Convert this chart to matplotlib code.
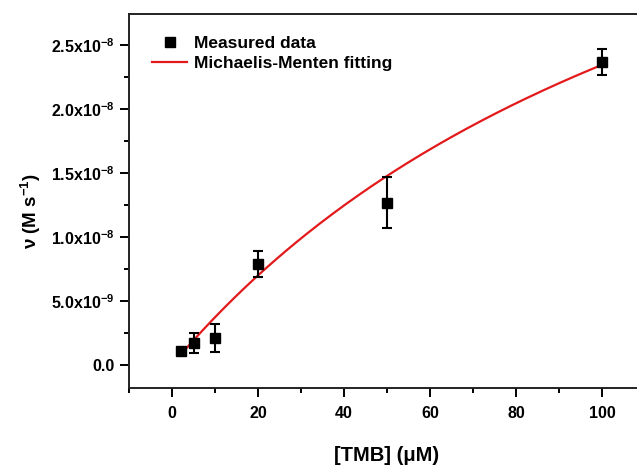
import matplotlib
matplotlib.use("Agg")
import matplotlib.pyplot as plt
import numpy as np
from matplotlib.ticker import MultipleLocator, FuncFormatter

# Data
tmb_uM = [2, 5, 10, 20, 50, 100]
rate = [1.1e-9, 1.7e-9, 2.1e-9, 7.9e-9, 1.27e-8, 2.37e-8]
rate_err = [0.0, 0.8e-9, 1.12e-9, 1.02e-9, 2.02e-9, 1.0e-9]

# Michaelis-Menten fit parameters (estimated from the drawn curve)
vmax = 5.7e-8
km = 142.7
fit_x_range = (1.9, 100)

plt.rcParams['font.family'] = ['Liberation Sans', 'DejaVu Sans']
plt.rcParams['font.weight'] = 'bold'
plt.rcParams['mathtext.fontset'] = 'custom'
plt.rcParams['mathtext.rm'] = 'Liberation Sans:bold'
plt.rcParams['mathtext.bf'] = 'Liberation Sans:bold'
plt.rcParams['mathtext.default'] = 'rm'

fig = plt.figure(figsize=(6.37, 4.69), dpi=100)
ax = fig.add_axes([129/637, 1 - 387.7/469, 516/637, (387.7 - 14.3)/469])

xs = np.linspace(fit_x_range[0], fit_x_range[1], 200)
line, = ax.plot(xs, vmax * xs / (km + xs), color='#e31a1c', lw=1.6, zorder=2)
ax.errorbar(tmb_uM, rate, yerr=rate_err, fmt='none', ecolor='black',
            elinewidth=1.5, capsize=3.8, capthick=1.5, zorder=3)
pts, = ax.plot(tmb_uM, rate, 's', color='black', ms=6.5, zorder=4)

ax.set_xlim(-10, 110)
ax.set_ylim(-1.78e-9, 2.744e-8)

ax.xaxis.set_major_locator(MultipleLocator(20))
ax.xaxis.set_minor_locator(MultipleLocator(10))
ax.yaxis.set_major_locator(MultipleLocator(5e-9))
ax.yaxis.set_minor_locator(MultipleLocator(2.5e-9))


def yfmt(v, pos):
    if abs(v) < 1e-15:
        return "0.0"
    exp = int(np.floor(np.log10(abs(v))))
    mant = v / 10**exp
    return r"%.1fx10$^{%d}$" % (mant, exp)


ax.yaxis.set_major_formatter(FuncFormatter(yfmt))

ax.tick_params(which='major', direction='out', length=6.5, width=1.4, labelsize=11.5, pad=4)
ax.tick_params(which='minor', direction='out', length=3.5, width=1.4)
ax.tick_params(axis='x', which='major', pad=7)
for lbl in ax.get_xticklabels() + ax.get_yticklabels():
    lbl.set_fontweight('bold')

for s in ['left', 'bottom', 'top']:
    ax.spines[s].set_linewidth(1.4)
    ax.spines[s].set_color('#222222')
ax.spines['right'].set_visible(False)
ax.tick_params(top=False, right=False)

ax.set_xlabel("[TMB] (μM)", fontsize=14.5, fontweight='bold', labelpad=18)
ax.set_ylabel(r"ν (M s$^{-1}$)", fontsize=13.5, fontweight='bold')
ax.yaxis.set_label_coords(-0.166, 0.473)

leg = ax.legend([pts, line], ['Measured data', 'Michaelis-Menten fitting'],
                loc='upper left', frameon=False, fontsize=12.5,
                bbox_to_anchor=(0.014, 0.985), handlelength=2.05,
                handletextpad=0.35, labelspacing=0.3)
for t in leg.get_texts():
    t.set_fontweight('bold')

fig.savefig("out.png", dpi=100, facecolor='white')
